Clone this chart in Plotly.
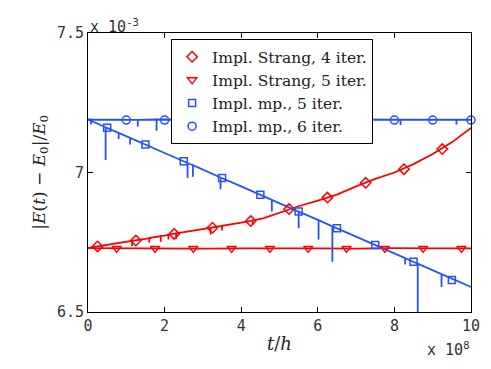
"""Energy error of implicit splitting schemes over long times."""
import plotly.graph_objects as go

RED = "#ff0000"
BLUE = "#2452ff"
MONO = "DejaVu Sans Mono"
SERIF = "DejaVu Serif"

# values on the y axis are in units of 1e-3, t/h in units of 1e8

# Impl. Strang, 4 iter. (line, with small downward spikes)
strang4_x = [0, 0.5, 1.0, 1.15, 1.15, 1.15, 1.5, 1.6, 1.6, 1.6, 1.9, 1.9, 1.9,
             2.0, 2.1, 2.1, 2.1, 2.3, 2.3, 2.3, 2.5, 3.0, 3.2, 3.2, 3.2, 3.5,
             3.5, 3.5, 4.0, 4.3, 4.3, 4.3, 4.57, 5.0, 5.5, 6.0, 6.5, 7.0,
             7.5, 8.0, 8.5, 9.0, 9.5, 10]
strang4_y = [6.730, 6.742, 6.752, 6.755, 6.737, 6.755, 6.762, 6.765, 6.748,
             6.765, 6.772, 6.752, 6.772, 6.774, 6.777, 6.760, 6.777, 6.782,
             6.762, 6.782, 6.786, 6.797, 6.802, 6.778, 6.802, 6.809, 6.792,
             6.809, 6.820, 6.828, 6.812, 6.828, 6.836, 6.857, 6.879, 6.899,
             6.921, 6.950, 6.977, 7.000, 7.030, 7.066, 7.108, 7.160]
strang4_mx = [0.25, 1.25, 2.25, 3.25, 4.25, 5.25, 6.25, 7.25, 8.25, 9.25]
strang4_my = [6.735, 6.756, 6.780, 6.802, 6.826, 6.869, 6.910, 6.963, 7.012,
              7.084]

# Impl. Strang, 5 iter. (flat)
strang5_x = [0, 1.0, 2.0, 3.0, 4.0, 5.0, 6.0, 7.0, 8.0, 9.0, 10]
strang5_y = [6.729, 6.728, 6.729, 6.727, 6.728, 6.729, 6.728, 6.727, 6.729,
             6.728, 6.728]
strang5_mx = [0.75, 1.75, 2.75, 3.75, 4.75, 5.75, 6.75, 7.75, 8.75, 9.75]
strang5_my = [6.728] * 10

# Impl. mp., 5 iter. (drifting down, with spikes)
mp5_x = [0, 0.46, 0.46, 0.46, 0.8, 0.8, 0.8, 1.1, 1.1, 1.1, 2.0, 2.6, 2.6,
         2.6, 2.74, 2.74, 2.74, 3.46, 3.46, 3.46, 4.0, 4.8, 4.8, 4.8, 5.5,
         5.5, 5.5, 6.02, 6.02, 6.02, 6.38, 6.38, 6.38, 7.0, 8.28, 8.28, 8.28,
         8.61, 8.61, 8.61, 9.23, 9.23, 9.23, 10]
mp5_y = [7.190, 7.162, 7.045, 7.162, 7.142, 7.120, 7.142, 7.124, 7.100,
         7.124, 7.070, 7.034, 6.980, 7.034, 7.026, 6.985, 7.026, 6.982,
         6.940, 6.982, 6.950, 6.902, 6.860, 6.902, 6.860, 6.800, 6.860,
         6.829, 6.760, 6.829, 6.807, 6.680, 6.807, 6.770, 6.693, 6.670,
         6.693, 6.673, 6.450, 6.673, 6.636, 6.590, 6.636, 6.590]
mp5_mx = [0.5, 1.5, 2.5, 3.5, 4.5, 5.5, 6.5, 7.5, 8.5, 9.5]
mp5_my = [7.160, 7.100, 7.040, 6.980, 6.920, 6.860, 6.800, 6.740, 6.680,
          6.615]

# Impl. mp., 6 iter. (flat, with spikes)
mp6_x = [0, 0.08, 0.08, 0.08, 1.3, 1.3, 1.3, 1.79, 1.79, 1.79, 4.42, 4.42,
         4.42, 6.62, 6.62, 6.62, 8.16, 8.16, 8.16, 9.62, 9.62, 9.62, 10]
mp6_y = [7.190, 7.190, 7.172, 7.190, 7.189, 7.165, 7.189, 7.190, 7.150,
         7.190, 7.189, 7.130, 7.189, 7.190, 7.145, 7.190, 7.189, 7.170,
         7.189, 7.189, 7.172, 7.189, 7.189]
mp6_mx = [1, 2, 3, 4, 5, 6, 7, 8, 9, 10]
mp6_my = [7.188] * 10

fig = go.Figure()

lines = [(strang4_x, strang4_y, RED), (strang5_x, strang5_y, RED),
         (mp5_x, mp5_y, BLUE), (mp6_x, mp6_y, BLUE)]
for xs, ys, col in lines:
    fig.add_trace(go.Scatter(x=xs, y=ys, mode="lines", showlegend=False,
                             line=dict(color=col, width=1.8)))

markers = [
    ("Impl. Strang, 4 iter.", strang4_mx, strang4_my, "diamond-open", RED, 8),
    ("Impl. Strang, 5 iter.", strang5_mx, strang5_my, "triangle-down-open", RED, 8),
    ("Impl. mp., 5 iter.", mp5_mx, mp5_my, "square-open", BLUE, 7),
    ("Impl. mp., 6 iter.", mp6_mx, mp6_my, "circle-open", BLUE, 8),
]
for name, xs, ys, sym, col, sz in markers:
    fig.add_trace(go.Scatter(x=xs, y=ys, mode="markers", name=name,
                             cliponaxis=False,
                             marker=dict(symbol=sym, color=col, size=sz,
                                         line=dict(color=col, width=1.5))))

axis_style = dict(showgrid=False, zeroline=False, showline=True,
                  linecolor="black", linewidth=1, mirror="ticks",
                  ticks="inside", ticklen=5, tickcolor="black",
                  tickfont=dict(family=MONO, size=15, color="#333"))

fig.update_xaxes(range=[0, 10], tickvals=[0, 2, 4, 6, 8, 10], **axis_style)
fig.update_yaxes(range=[6.5, 7.5], tickvals=[6.5, 7, 7.5],
                 ticktext=["6.5", "7", "7.5"], **axis_style)

fig.add_annotation(text="x 10<sup>-3</sup>", xref="paper", yref="paper",
                   x=0, y=1, xanchor="left", yanchor="bottom", yshift=-5,
                   showarrow=False,
                   font=dict(family=MONO, size=15, color="#333"))
fig.add_annotation(text="x 10<sup>8</sup>", xref="paper", yref="paper",
                   x=1, y=-0.09, xanchor="right", yanchor="top", showarrow=False,
                   font=dict(family=MONO, size=15, color="#333"))
fig.add_annotation(text="<i>t</i>/<i>h</i>", xref="paper", yref="paper",
                   x=0.5, y=-0.112, xanchor="center", yanchor="middle",
                   showarrow=False, font=dict(family=SERIF, size=18, color="#222"))
fig.add_annotation(text="|<i>E</i>(<i>t</i>) \u2212 <i>E</i><sub>0</sub>|/<i>E</i><sub>0</sub>",
                   xref="paper", yref="paper", x=-0.125, y=0.5, textangle=-90,
                   xanchor="center", yanchor="middle", showarrow=False,
                   font=dict(family=SERIF, size=17, color="#222"))

# the page body adds an 8px offset, so margins are trimmed by that much
fig.update_layout(
    width=483, height=361,
    margin=dict(l=80, r=20, t=25, b=57),
    paper_bgcolor="white", plot_bgcolor="white",
    legend=dict(x=0.217, y=0.978, xanchor="left", yanchor="top",
                bgcolor="white", bordercolor="black", borderwidth=1,
                font=dict(family=SERIF, size=15.5, color="#222"),
                tracegroupgap=0),
)

fig.write_html("out.html")
